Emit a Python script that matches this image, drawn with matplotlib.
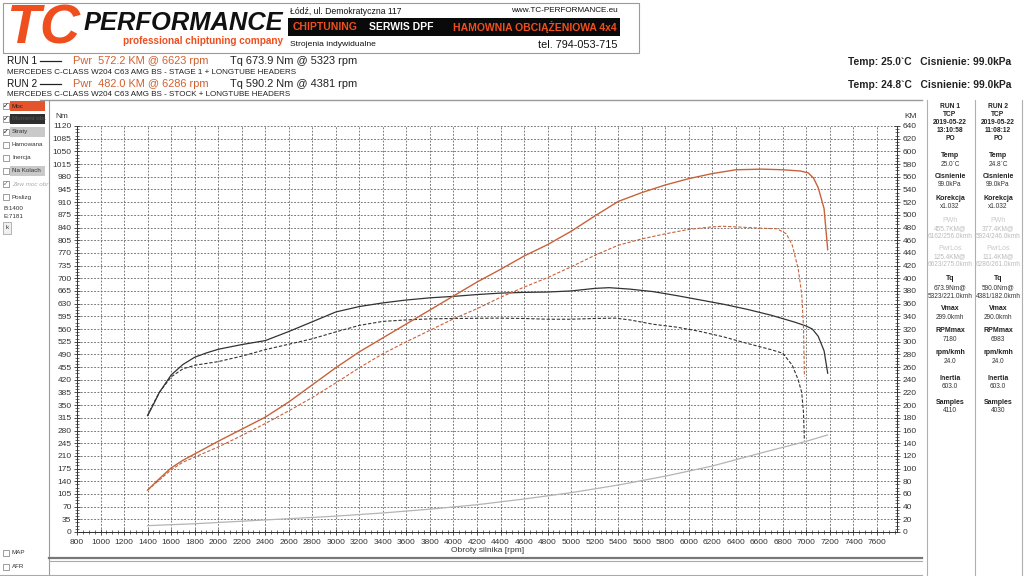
import matplotlib
matplotlib.use("Agg")
import matplotlib.pyplot as plt
import numpy as np
from matplotlib.lines import Line2D
from matplotlib.patches import Rectangle
from matplotlib.ticker import MultipleLocator

# ---------------- data ----------------
run1_tq_rpm = [1400, 1450, 1500, 1600, 1700, 1800, 1900, 2000, 2200, 2400, 2600, 2800, 3000, 3200, 3400,
               3600, 3800, 4000, 4200, 4400, 4600, 4800, 5000, 5200, 5323, 5500, 5700, 5900, 6100, 6300,
               6500, 6700, 6900, 7000, 7050, 7100, 7150, 7181]
run1_tq = [321, 352, 385, 433, 462, 482, 494, 504, 517, 528, 553, 580, 607, 622, 632,
           640, 646, 650, 655, 659, 661, 662, 665, 672, 674, 670, 663, 652, 640, 628,
           614, 598, 579, 568, 560, 540, 500, 438]

run2_tq_rpm = [1400, 1450, 1500, 1600, 1700, 1800, 2000, 2200, 2400, 2600, 2800, 3000, 3200, 3400, 3600,
               3800, 4000, 4381, 4600, 4800, 5000, 5200, 5373, 5500, 5700, 5900, 6100, 6300, 6500, 6700,
               6800, 6880, 6930, 6960, 6975, 6983]
run2_tq = [321, 355, 385, 428, 450, 460, 470, 485, 503, 518, 533, 552, 570, 581, 585,
           588, 589, 590, 589, 587, 587, 589, 590, 585, 573, 565, 553, 538, 520, 503,
           493, 460, 420, 385, 330, 252]

run1_pw_rpm = [1400, 1450, 1500, 1600, 1700, 1800, 1900, 2000, 2200, 2400, 2600, 2800, 3000, 3200, 3400,
               3600, 3800, 4000, 4200, 4400, 4600, 4800, 5000, 5200, 5400, 5600, 5800, 6000, 6200, 6400,
               6623, 6800, 6950, 7016, 7060, 7100, 7150, 7181]
run1_pw = [66, 75, 84, 101, 113, 123, 133, 143, 162, 181, 205, 232, 259, 284, 306,
           328, 350, 372, 394, 414, 435, 453, 474, 498, 521, 535, 547, 557, 565, 571,
           572, 571, 569, 566, 558, 543, 510, 445]

run2_pw_rpm = [1400, 1500, 1600, 1700, 1800, 2000, 2200, 2400, 2600, 2800, 3000, 3200, 3400, 3600, 3800,
               4000, 4200, 4400, 4600, 4800, 5000, 5200, 5400, 5600, 5800, 6000, 6200, 6286, 6400, 6600,
               6750, 6830, 6880, 6930, 6960, 6975, 6983]
run2_pw = [66, 82, 98, 110, 118, 134, 152, 171, 191, 212, 235, 259, 281, 300, 318,
           336, 352, 370, 386, 401, 418, 436, 452, 462, 470, 477, 481, 482, 481, 479,
           478, 470, 452, 415, 375, 325, 245]

loss_rpm = [1400, 1800, 2200, 2600, 3000, 3400, 3800, 4200, 4600, 5000, 5400, 5800, 6200, 6623, 7000, 7180]
loss_pw = [10, 13, 17, 21, 25, 30, 36, 43, 52, 62, 74, 88, 104, 125, 143, 153]

x_ticks = list(range(800, 7601, 200))
nm_ticks = list(range(0, 1121, 35))
km_ticks = list(range(0, 641, 20))

panel_labels = ["RUN 1", "TCP", "2019-05-22", "13:10:58", "PO"]
panel_labels2 = ["RUN 2", "TCP", "2019-05-22", "11:08:12", "PO"]
panel_rows = [
    ("Temp", "25.0`C", "24.8`C", None),
    ("Cisnienie", "99.0kPa", "99.0kPa", None),
    ("Korekcja", "x1.032", "x1.032", None),
    ("PWh", "455.7KM@\n6162/256.0kmh", "377.4KM@\n5924/246.0kmh", "light"),
    ("PwrLos", "125.4KM@\n6623/275.0kmh", "111.4KM@\n6286/261.0kmh", "light"),
    ("Tq", "673.9Nm@\n5323/221.0kmh", "590.0Nm@\n4381/182.0kmh", None),
    ("Vmax", "299.0kmh", "290.0kmh", None),
    ("RPMmax", "7180", "6983", None),
    ("rpm/kmh", "24.0", "24.0", None),
    ("Inertia", "603.0", "603.0", None),
    ("Samples", "4110", "4030", None),
]

ORANGE = "#c8623a"
DARK = "#333333"
HDR_OR = "#ef4e1e"

plt.rcParams['font.family'] = ['Liberation Sans', 'DejaVu Sans']

W, H = 1024, 576
fig = plt.figure(figsize=(W / 100, H / 100), dpi=100)
fig.patch.set_facecolor("white")


def fx(x):
    return x / W


def fy(y):
    return 1 - y / H


def hline(x0, x1, y, color="#888888", lw=0.8):
    fig.add_artist(Line2D([fx(x0), fx(x1)], [fy(y), fy(y)], transform=fig.transFigure, color=color, lw=lw))


def vline(x, y0, y1, color="#888888", lw=0.8):
    fig.add_artist(Line2D([fx(x), fx(x)], [fy(y0), fy(y1)], transform=fig.transFigure, color=color, lw=lw))


def rect(x, y, w, h, fc, ec="none", lw=0.6):
    fig.add_artist(Rectangle((fx(x), fy(y + h)), w / W, h / H, transform=fig.transFigure,
                             facecolor=fc, edgecolor=ec, lw=lw))


def txt(x, y, s, size=6, color="#222222", ha="left", va="center", weight="normal", style="normal", family=None):
    kw = {}
    if family is not None:
        kw["family"] = family
    fig.text(fx(x), fy(y), s, fontsize=size, color=color, ha=ha, va=va, weight=weight, style=style, **kw)


# ---------------- header ----------------
rect(3, 3, 636, 50, "white", ec="#9a9a9a", lw=0.8)
txt(6, 29, "TC", size=40, color=HDR_OR, weight="bold", style="italic")
txt(84, 23, "PERFORMANCE", size=18.4, color="#111111", weight="bold", style="italic")
txt(283, 41, "professional chiptuning company", size=7.2, color=HDR_OR, weight="bold", ha="right")
txt(290, 11, "Łódź, ul. Demokratyczna 117", size=6.2, color="#111111")
txt(618, 11, "www.TC-PERFORMANCE.eu", size=5.9, color="#111111", ha="right")
rect(288, 18, 332, 18, "#0a0a0a")
txt(293, 27.5, "CHIPTUNING", size=7.5, color=HDR_OR, weight="bold")
txt(369, 27.5, "SERWIS DPF", size=7.5, color="white", weight="bold")
txt(617, 27.5, "HAMOWNIA OBCIĄŻENIOWA 4x4", size=7.5, color=HDR_OR, weight="bold", ha="right")
txt(290, 45, "Strojenia indywidualne", size=6.1, color="#111111")
txt(618, 45, "tel. 794-053-715", size=7.8, color="#111111", ha="right")

# ---------------- run info ----------------
txt(7, 61, "RUN 1", size=7.2, color="#111111")
hline(40, 61, 61, color="#222222", lw=0.9)
txt(73, 61, "Pwr  572.2 KM @ 6623 rpm", size=7.9, color="#d2602f")
txt(230, 61, "Tq 673.9 Nm @ 5323 rpm", size=7.9, color="#222222")
txt(7, 73, "MERCEDES C-CLASS W204 C63 AMG BS - STAGE 1 + LONGTUBE HEADERS", size=5.8, color="#222222")
txt(7, 84, "RUN 2", size=7.2, color="#111111")
hline(40, 61, 84, color="#222222", lw=0.9)
txt(73, 84, "Pwr  482.0 KM @ 6286 rpm", size=7.9, color="#d2602f")
txt(230, 84, "Tq 590.2 Nm @ 4381 rpm", size=7.9, color="#222222")
txt(7, 95, "MERCEDES C-CLASS W204 C63 AMG BS - STOCK + LONGTUBE HEADERS", size=5.8, color="#222222")
txt(1011, 62, "Temp: 25.0`C   Cisnienie: 99.0kPa", size=7.4, weight="bold", ha="right", color="#222222")
txt(1011, 85, "Temp: 24.8`C   Cisnienie: 99.0kPa", size=7.4, weight="bold", ha="right", color="#222222")

# ---------------- frames ----------------
hline(40, 922, 100, color="#9a9a9a", lw=1.0)
vline(49, 100, 576, color="#9a9a9a", lw=0.8)
hline(49, 922, 557.5, color="#777777", lw=1.6)
hline(49, 922, 561, color="#aaaaaa", lw=0.8)
hline(0, 922, 575, color="#aaaaaa", lw=0.8)
vline(927, 100, 576, color="#b0b0b0", lw=0.8)
vline(975, 100, 576, color="#b0b0b0", lw=0.8)
vline(1022, 100, 576, color="#b0b0b0", lw=0.8)

# ---------------- left checkbox panel ----------------
checks = [
    ("Moc", 106, True, "#e4552c", "#222222"),
    ("Moment obr.", 119, True, "#2e2e2e", "#555555"),
    ("Straty", 132, True, "#c9c9c9", "#333333"),
    ("Hamowana", 145, False, None, "#333333"),
    ("Inercja", 158, False, None, "#333333"),
    ("Na Kolach", 171, False, "#c9c9c9", "#333333"),
    ("Zew moc obr", 184, True, None, "#aaaaaa"),
    ("Poslizg", 197, False, None, "#333333"),
]
for lab, yy, chk, bg, tc in checks:
    if bg is not None:
        rect(10, yy - 5, 35, 10, bg)
    rect(3, yy - 3, 6, 6, "white", ec="#777777", lw=0.5)
    if chk:
        txt(6, yy, "✓", size=5, ha="center", color="#777777" if lab == "Zew moc obr" else "#111111",
            family=['DejaVu Sans'])
    txt(12, yy, lab, size=4.5, color=tc, style="italic" if lab == "Zew moc obr" else "normal")
txt(3, 208, "B:1400", size=4.5, color="#333333")
txt(3, 217, "E:7181", size=4.5, color="#333333")
rect(3, 222, 8, 12, "#f0f0f0", ec="#999999", lw=0.5)
txt(7, 228, "k", size=4.5, ha="center", color="#333333")
for lab, yy in [("MAP", 553), ("AFR", 567)]:
    rect(3, yy - 3, 6, 6, "white", ec="#777777", lw=0.5)
    txt(12, yy, lab, size=4.5, color="#333333")

# ---------------- right panel ----------------
for cx, hdr in [(950, panel_labels), (998, panel_labels2)]:
    for i, s in enumerate(hdr):
        txt(cx, 106 + i * 8.2, s, size=4.8, weight="bold", ha="center", color="#222222")
row_y = [156, 176, 198, 220, 248, 279, 309, 331, 353, 378, 402]
for (lab, v1, v2, kind), yy in zip(panel_rows, row_y):
    light = kind == "light"
    lc = "#c8c8c8" if light else "#222222"
    for cx, v in [(950, v1), (998, v2)]:
        txt(cx, yy, lab, size=5.0, weight="normal" if light else "bold", ha="center", color=lc)
        for j, part in enumerate(v.split("\n")):
            txt(cx, yy + 8.5 + j * 8.5, part, size=4.7, ha="center", color="#bbbbbb" if light else "#333333")

# ---------------- chart ----------------
ax = fig.add_axes([fx(77), fy(532), (897 - 77) / W, (532 - 126) / H])
ax2 = ax.twinx()
ax.set_xlim(800, 800 + 820 / 0.117647)
ax.set_ylim(0, 1120)
ax2.set_ylim(0, 640)
ax.patch.set_alpha(0)

ax.set_xticks(x_ticks)
ax.set_xticklabels([str(t) for t in x_ticks])
ax.set_yticks(nm_ticks)
ax.set_yticklabels([str(t) for t in nm_ticks])
ax2.set_yticks(km_ticks)
ax2.set_yticklabels([str(t) for t in km_ticks])
ax.xaxis.set_minor_locator(MultipleLocator(50))
ax.yaxis.set_minor_locator(MultipleLocator(8.75))
ax2.yaxis.set_minor_locator(MultipleLocator(5))

for a in (ax, ax2):
    a.tick_params(which="major", direction="inout", length=5, width=0.6, labelsize=6,
                  colors="#333333", labelcolor="#333333", pad=1.5)
    a.tick_params(which="minor", direction="inout", length=2.5, width=0.5, colors="#333333")
    a.spines["top"].set_visible(False)
    for s in ("left", "right", "bottom"):
        a.spines[s].set_color("#333333")
        a.spines[s].set_linewidth(0.7)
ax.tick_params(axis="x", pad=2.5)

ax.grid(True, which="major", color="#666666", linestyle=(0, (2.2, 1.8)), linewidth=0.6)
ax.set_axisbelow(True)

ax.plot(run1_tq_rpm, run1_tq, color=DARK, lw=0.9, zorder=3)
ax.plot(run2_tq_rpm, run2_tq, color=DARK, lw=0.8, linestyle=(0, (3, 1.6)), zorder=3)
ax2.plot(run1_pw_rpm, run1_pw, color=ORANGE, lw=1.0, zorder=3)
ax2.plot(run2_pw_rpm, run2_pw, color=ORANGE, lw=0.8, linestyle=(0, (3, 1.6)), zorder=3)
ax2.plot(loss_rpm, loss_pw, color="#b4b4b4", lw=0.9, zorder=3)

txt(55, 116, "Nm", size=6, color="#333333")
txt(904, 116, "KM", size=6, color="#333333")
txt(488, 550, "Obroty silnika [rpm]", size=6, ha="center", color="#333333")

fig.savefig("out.png", dpi=100, facecolor="white")
